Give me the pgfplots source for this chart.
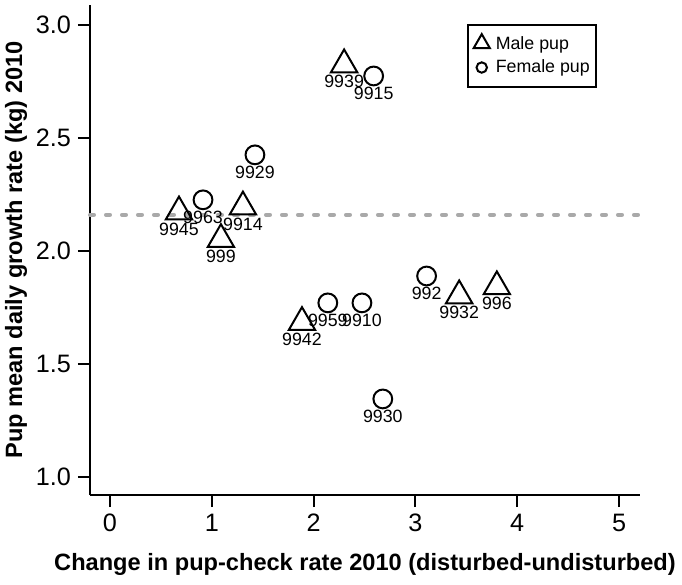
\documentclass[border=0pt]{standalone}
\usepackage{pgfplots}
\pgfplotsset{compat=1.18}
\usepackage{pgfplotstable}
\usepackage{fontspec}
\setmainfont{Liberation Sans}

\pgfplotstableread{
x y label
0.678 2.173 9945
1.306 2.195 9914
1.090 2.051 999
2.300 2.824 9939
1.886 1.684 9942
3.430 1.802 9932
3.800 1.842 996
}\maletab
\pgfplotstableread{
x y label
2.590 2.774 9915
1.424 2.425 9929
0.914 2.226 9963
2.140 1.770 9959
2.475 1.770 9910
2.680 1.345 9930
3.110 1.889 992
}\femaletab

\definecolor{refgray}{RGB}{169,169,169}

\begin{document}
\begin{tikzpicture}
\useasboundingbox (-45pt,-45pt) rectangle (296pt,247.5pt);
\begin{axis}[
  scale only axis, width=275pt, height=245pt,
  xmin=-0.196, xmax=5.206, ymin=0.920, ymax=3.088,
  axis x line*=bottom, axis y line*=left,
  axis line style={-, line width=1pt, black},
  xtick={0,1,2,3,4,5}, ytick={1,1.5,2,2.5,3},
  yticklabel style={/pgf/number format/.cd, fixed, fixed zerofill, precision=1},
  tick align=outside, major tick length=6pt,
  tick style={line width=1pt, black},
  ticklabel style={font=\fontsize{12.6}{14}\selectfont},
  /pgf/number format/assume math mode=true,
  xlabel={Change in pup-check rate 2010 (disturbed-undisturbed)},
  ylabel={Pup mean daily growth rate (kg) 2010},
  label style={font=\bfseries\fontsize{11.8}{14}\selectfont},
  xlabel style={at={([yshift=-34.5pt]axis description cs:0.5,0)}, anchor=center},
  ylabel style={at={([xshift=-37pt]axis description cs:0,0.5)}, anchor=center},
  legend style={at={(0.685,0.961)}, anchor=north west, draw=black, line width=1pt,
    font=\fontsize{8.9}{10}\selectfont, cells={anchor=west},
    inner xsep=1.5pt, inner ysep=4.5pt, row sep=1.2pt,
    nodes={inner ysep=1pt, inner xsep=1.5pt, text height=6.4pt, text depth=1.8pt}},
  clip=false,
]
\addplot[forget plot, color=refgray, line width=2pt, dash pattern=on 2pt off 6pt, line cap=round]
  coordinates {(-0.196,2.16) (5.206,2.16)};

\addplot[forget plot, only marks, mark=triangle, mark size=7.6pt, mark options={line width=1pt, black},
  nodes near coords, point meta=explicit symbolic,
  every node near coord/.append style={font=\fontsize{8.9}{10}\selectfont, anchor=center, yshift=-8.6pt, text=black}]
  table[x=x, y=y, meta=label] {\maletab};

\addplot[forget plot, only marks, mark=o, mark size=4.7pt, mark options={line width=1pt, black},
  nodes near coords, point meta=explicit symbolic,
  every node near coord/.append style={font=\fontsize{8.9}{10}\selectfont, anchor=center, yshift=-8.6pt, text=black}]
  table[x=x, y=y, meta=label] {\femaletab};

\addlegendimage{legend image code/.code={\path[draw=none, fill=none] (0pt,-0.1pt) rectangle (11pt,0.1pt);\draw[black, line width=1pt, mark=triangle, mark size=4.7pt] plot coordinates {(5.5pt,0.6pt)};}}
\addlegendentry{Male pup}
\addlegendimage{legend image code/.code={\path[draw=none, fill=none] (0pt,-0.1pt) rectangle (11pt,0.1pt);\draw[black, line width=1pt, mark=o, mark size=2.6pt] plot coordinates {(5.5pt,0pt)};}}
\addlegendentry{Female pup}
\end{axis}
\end{tikzpicture}
\end{document}
